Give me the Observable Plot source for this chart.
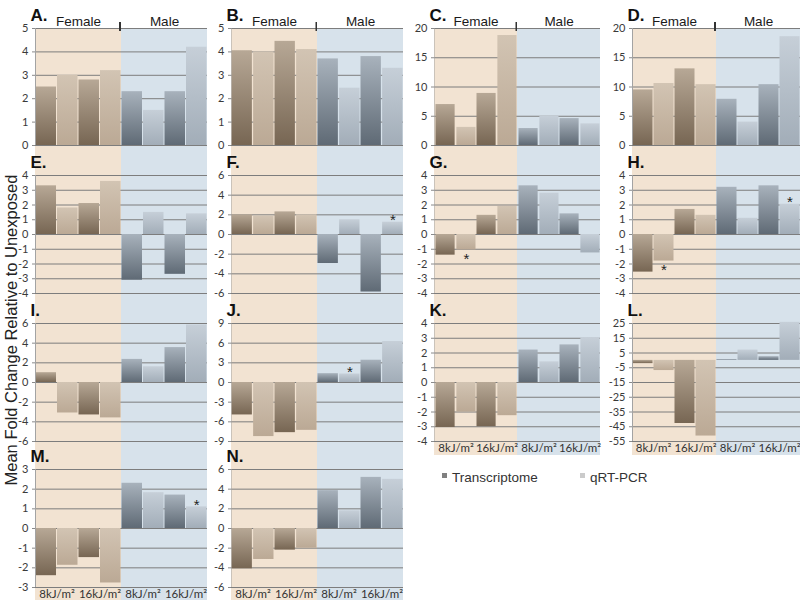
<!DOCTYPE html>
<html>
<head>
<meta charset="utf-8">
<script src="https://cdn.jsdelivr.net/npm/d3@7"></script>
<script src="https://cdn.jsdelivr.net/npm/@observablehq/plot@0.6"></script>
<style>
  html, body { margin: 0; padding: 0; background: #fff; }
  #chart { position: relative; width: 800px; height: 605px; overflow: hidden; font-family: "Liberation Sans", Arial, sans-serif; }
  .panel { position: absolute; }
  .ylabel { position: absolute; left: 11px; top: 330px; transform: translate(-50%, -50%) rotate(-90deg); white-space: nowrap; font-size: 16.5px; color: #222; }
  .legend { position: absolute; top: 470px; font-size: 13.5px; color: #333; white-space: nowrap; }
  .legend span.sw { display: inline-block; width: 5px; height: 5px; margin-right: 5px; vertical-align: 4px; }
</style>
</head>
<body>
<svg width="0" height="0" style="position:absolute">
  <defs>
    <linearGradient id="gFT" x1="0" y1="0" x2="0" y2="1">
      <stop offset="0" stop-color="#b7a896"/><stop offset="1" stop-color="#776653"/>
    </linearGradient>
    <linearGradient id="gFQ" x1="0" y1="0" x2="0" y2="1">
      <stop offset="0" stop-color="#d2c4b3"/><stop offset="1" stop-color="#bba995"/>
    </linearGradient>
    <linearGradient id="gMT" x1="0" y1="0" x2="0" y2="1">
      <stop offset="0" stop-color="#a8b2bc"/><stop offset="1" stop-color="#5f6a75"/>
    </linearGradient>
    <linearGradient id="gMQ" x1="0" y1="0" x2="0" y2="1">
      <stop offset="0" stop-color="#c6cfd8"/><stop offset="1" stop-color="#a2adb8"/>
    </linearGradient>
  </defs>
</svg>
<div id="chart"></div>
<script>
// ---------------- data ----------------
const sexes = ["Female", "Male"];
const doses = ["8kJ/m²", "16kJ/m²"];
const methods = ["Transcriptome", "qRT-PCR"];
// order of values: F 8 T, F 8 Q, F 16 T, F 16 Q, M 8 T, M 8 Q, M 16 T, M 16 Q
const valuesA = [2.5, 3.0, 2.8, 3.2, 2.3, 1.5, 2.3, 4.2];
const valuesB = [4.05, 4.0, 4.45, 4.1, 3.7, 2.45, 3.8, 3.3];
const valuesC = [7.0, 3.1, 8.9, 18.8, 2.9, 5.0, 4.6, 3.7];
const valuesD = [9.5, 10.6, 13.1, 10.4, 7.9, 4.0, 10.4, 18.6];
const valuesE = [3.3, 1.8, 2.1, 3.6, -3.1, 1.5, -2.7, 1.4];
const valuesF = [2.0, 1.85, 2.3, 2.0, -2.95, 1.5, -5.85, 1.25];
const valuesG = [-1.4, -1.05, 1.3, 1.9, 3.3, 2.8, 1.4, -1.25];
const valuesH = [-2.55, -1.8, 1.7, 1.3, 3.2, 1.1, 3.3, 2.05];
const valuesI = [1.0, -3.1, -3.3, -3.6, 2.35, 1.6, 3.55, 5.85];
const valuesJ = [-4.95, -8.25, -7.65, -7.3, 1.35, 1.3, 3.4, 6.25];
const valuesK = [-3.05, -2.0, -3.0, -2.25, 2.2, 1.4, 2.55, 3.05];
const valuesL = [-2.2, -6.9, -42.8, -51.3, 0.5, 7.0, 2.5, 25.8];
const valuesM = [-2.4, -1.87, -1.48, -2.77, 2.3, 1.82, 1.7, 1.1];
const valuesN = [-4.1, -3.15, -2.2, -2.0, 3.85, 1.8, 5.2, 5.0];

const ticksA = [0, 1, 2, 3, 4, 5];
const ticksB = [0, 1, 2, 3, 4, 5];
const ticksC = [0, 5, 10, 15, 20];
const ticksD = [0, 5, 10, 15, 20];
const ticksE = [-4, -3, -2, -1, 0, 1, 2, 3, 4];
const ticksF = [-6, -4, -2, 0, 2, 4, 6];
const ticksG = [-4, -3, -2, -1, 0, 1, 2, 3, 4];
const ticksH = [-4, -3, -2, -1, 0, 1, 2, 3, 4];
const ticksI = [-6, -4, -2, 0, 2, 4, 6];
const ticksJ = [-9, -6, -3, 0, 3, 6, 9];
const ticksK = [-4, -3, -2, -1, 0, 1, 2, 3, 4];
const ticksL = [-55, -45, -35, -25, -15, -5, 5, 15, 25];
const ticksM = [-3, -2, -1, 0, 1, 2, 3];
const ticksN = [-6, -4, -2, 0, 2, 4, 6];

// indices of bars flagged with an asterisk
const starsF = [7];
const starsG = [1];
const starsH = [1, 7];
const starsJ = [5];
const starsM = [7];

const panelLabels = ["A.", "B.", "C.", "D.", "E.", "F.", "G.", "H.", "I.", "J.", "K.", "L.", "M.", "N."];
const yAxisTitle = "Mean Fold Change Relative to Unexposed";

// ---------------- layout ----------------
const panels = [
  {values: valuesA, ticks: ticksA, stars: [], row: 0, col: 0},
  {values: valuesB, ticks: ticksB, stars: [], row: 0, col: 1},
  {values: valuesC, ticks: ticksC, stars: [], row: 0, col: 2},
  {values: valuesD, ticks: ticksD, stars: [], row: 0, col: 3},
  {values: valuesE, ticks: ticksE, stars: [], row: 1, col: 0},
  {values: valuesF, ticks: ticksF, stars: starsF, row: 1, col: 1},
  {values: valuesG, ticks: ticksG, stars: starsG, row: 1, col: 2},
  {values: valuesH, ticks: ticksH, stars: starsH, row: 1, col: 3},
  {values: valuesI, ticks: ticksI, stars: [], row: 2, col: 0},
  {values: valuesJ, ticks: ticksJ, stars: starsJ, row: 2, col: 1},
  {values: valuesK, ticks: ticksK, stars: [], row: 2, col: 2},
  {values: valuesL, ticks: ticksL, stars: [], row: 2, col: 3},
  {values: valuesM, ticks: ticksM, stars: starsM, row: 3, col: 0},
  {values: valuesN, ticks: ticksN, stars: [], row: 3, col: 1}
].map((p, i) => ({...p, label: panelLabels[i]}));

const ML = 30;
const cols = [
  {axis: 35, right: 207},
  {axis: 230, right: 403},
  {axis: 433, right: 600},
  {axis: 632, right: 800}
];
const rows = [
  {top: 0, mt: 28, ph: 117, mb: 5, extTop: 0, extBot: 5},
  {top: 150, mt: 25, ph: 118, mb: 5, extTop: 25, extBot: 5},
  {top: 298, mt: 25, ph: 118, mb: 14, extTop: 25, extBot: 14},
  {top: 455, mt: 14, ph: 118, mb: 18, extTop: 14, extBot: 13}
];

const bandFill = {Female: "#f2e3d2", Male: "#d7e2eb"};
const barFill = {FemaleTranscriptome: "url(#gFT)", "FemaleqRT-PCR": "url(#gFQ)", MaleTranscriptome: "url(#gMT)", "MaleqRT-PCR": "url(#gMQ)"};

function rowsOf(values) {
  return values.map((v, i) => ({sex: sexes[i >> 2], dose: doses[(i >> 1) & 1], method: methods[i & 1], value: v, idx: i}));
}

const chart = document.getElementById("chart");

for (const p of panels) {
  const C = cols[p.col], R = rows[p.row];
  const W = C.right - C.axis + ML;
  const H = R.mt + R.ph + R.mb;
  const ymin = d3.min(p.ticks), ymax = d3.max(p.ticks);
  const k = (ymax - ymin) / R.ph;
  const facetW = (C.right - C.axis) / 2;
  const bw = facetW / 2;
  const data = rowsOf(p.values);
  const showX = (p.row === 2 && p.col >= 2) || p.row === 3;

  const marks = [];
  for (const s of sexes) {
    marks.push(Plot.barY([{sex: s}], {fx: "sex", y1: ymin - R.extBot * k, y2: ymax + R.extTop * k, fill: bandFill[s]}));
  }
  marks.push(Plot.gridY({ticks: p.ticks, stroke: "#7d7d7d", strokeOpacity: 1, strokeWidth: 1}));
  for (const s of sexes) {
    for (const m of methods) {
      const isT = m === methods[0];
      marks.push(Plot.barY(data.filter(d => d.sex === s && d.method === m), {
        fx: "sex", x: "dose", y: "value",
        fill: barFill[s + m],
        insetLeft: isT ? 0.5 : bw / 2 + 0.5,
        insetRight: isT ? bw / 2 + 0.5 : 0.5
      }));
    }
  }
  // vertical axis line at left of female facet
  marks.push(Plot.barY([{sex: "Female"}], {fx: "sex", y1: ymin, y2: ymax, insetRight: facetW - 1, fill: "#a3a3a3"}));
  marks.push(Plot.axisY({ticks: p.ticks, tickFormat: d => String(d), tickSize: 3, tickPadding: 4, stroke: "#8a8a8a", fill: "#3a3a3a", label: null, fontSize: 11, fontFamily: "Lato"}));
  // panel letter
  marks.push(Plot.text([{sex: "Female", t: p.label}], {
    fx: "sex", text: "t", frameAnchor: "top-left", dx: -5, dy: -7.5,
    textAnchor: "start", lineAnchor: "bottom", fontWeight: "bold", fontSize: 17,
    fontFamily: "Liberation Sans", fill: "#111"
  }));
  // asterisks (all on qRT-PCR bars)
  const sd = data.filter(d => p.stars.includes(d.idx));
  const starPos = sd.filter(d => d.value >= 0), starNeg = sd.filter(d => d.value < 0);
  const starOpts = {fx: "sex", x: "dose", y: "value", text: () => "*", dx: bw / 4, lineAnchor: "bottom", fontSize: 15, fontFamily: "Liberation Sans", fill: "#222"};
  if (starPos.length) marks.push(Plot.text(starPos, {...starOpts, dy: 3}));
  if (starNeg.length) marks.push(Plot.text(starNeg, {...starOpts, dy: 14}));
  if (p.row === 0) {
    marks.push(Plot.axisFx({anchor: "top", tickSize: 0, tickPadding: 3, label: null, fontSize: 13.5, fontFamily: "Liberation Sans", fill: "#1a1a1a"}));
    marks.push(Plot.barY([{sex: "Female"}], {fx: "sex", y1: ymax - 3 * k, y2: ymax + 6 * k, insetLeft: facetW - 2, fill: "#333"}));
  }
  if (showX) {
    marks.push(Plot.axisX({anchor: "bottom", tickSize: 0, tickPadding: 2, label: null, fontSize: 11.5, fontFamily: "Lato", fill: "#333"}));
  }

  const svg = Plot.plot({
    width: W, height: H,
    marginLeft: ML, marginRight: 0, marginTop: R.mt, marginBottom: R.mb,
    style: {background: "transparent", overflow: "visible", fontFamily: "Lato", fontSize: "11px"},
    fx: {domain: sexes, padding: 0, axis: null, label: null},
    x: {domain: doses, padding: 0, axis: null, label: null},
    y: {domain: [ymin, ymax], axis: null},
    marks
  });
  const div = document.createElement("div");
  div.className = "panel";
  div.style.left = (C.axis - ML) + "px";
  div.style.top = R.top + "px";
  div.appendChild(svg);
  chart.appendChild(div);
}

// y axis title
const yl = document.createElement("div");
yl.className = "ylabel";
yl.textContent = yAxisTitle;
chart.appendChild(yl);

// legend
const legendColors = {"Transcriptome": "#808080", "qRT-PCR": "#cbcbcb"};
const legendX = [442, 580];
methods.forEach((m, i) => {
  const lg = document.createElement("div");
  lg.className = "legend";
  lg.style.left = legendX[i] + "px";
  lg.innerHTML = `<span class="sw" style="background:${legendColors[m]}"></span>${m}`;
  chart.appendChild(lg);
});
</script>
</body>
</html>
